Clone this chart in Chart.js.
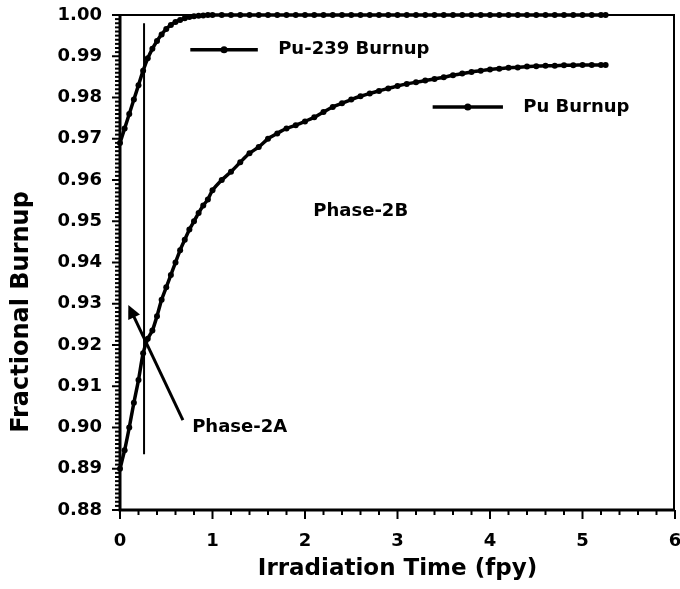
<!DOCTYPE html>
<html>
<head>
<meta charset="utf-8">
<script src="https://cdn.jsdelivr.net/npm/chart.js@4"></script>
<style>
  html, body { margin: 0; padding: 0; background: #fff; overflow: hidden; }
  #wrap { width: 680px; height: 589px; }
</style>
</head>
<body>
<div id="wrap"><canvas id="burnupChart"></canvas></div>
<script>
// irradiation time (fpy)
var times = [0, 0.05, 0.1, 0.15, 0.2, 0.25, 0.3, 0.35, 0.4, 0.45, 0.5, 0.55, 0.6, 0.65, 0.7, 0.75, 0.8, 0.85, 0.9, 0.95, 1.0,
  1.1, 1.2, 1.3, 1.4, 1.5, 1.6, 1.7, 1.8, 1.9, 2.0,
  2.1, 2.2, 2.3, 2.4, 2.5, 2.6, 2.7, 2.8, 2.9, 3.0,
  3.1, 3.2, 3.3, 3.4, 3.5, 3.6, 3.7, 3.8, 3.9, 4.0,
  4.1, 4.2, 4.3, 4.4, 4.5, 4.6, 4.7, 4.8, 4.9, 5.0,
  5.1, 5.2, 5.25];

// fractional burnup of Pu-239
var pu239Burnup = [0.969, 0.9725, 0.976, 0.9795, 0.983, 0.9865, 0.9895, 0.9918, 0.9937, 0.9953, 0.9966, 0.9976, 0.9983, 0.9988, 0.9992, 0.9995, 0.9997, 0.9998, 0.9999, 1.000, 1.000,
  1.000, 1.000, 1.000, 1.000, 1.000, 1.000, 1.000, 1.000, 1.000, 1.000,
  1.000, 1.000, 1.000, 1.000, 1.000, 1.000, 1.000, 1.000, 1.000, 1.000,
  1.000, 1.000, 1.000, 1.000, 1.000, 1.000, 1.000, 1.000, 1.000, 1.000,
  1.000, 1.000, 1.000, 1.000, 1.000, 1.000, 1.000, 1.000, 1.000, 1.000,
  1.000, 1.000, 1.000];

// fractional burnup of total Pu
var puBurnup = [0.890, 0.8945, 0.900, 0.906, 0.9115, 0.918, 0.9215, 0.9235, 0.927, 0.931, 0.934, 0.937, 0.940, 0.943, 0.9455, 0.948, 0.950, 0.952, 0.9538, 0.9553, 0.9575,
  0.960, 0.962, 0.9643, 0.9665, 0.968, 0.970, 0.9713, 0.9725, 0.9733, 0.9742,
  0.9752, 0.9765, 0.9777, 0.9786, 0.9795, 0.9803, 0.981, 0.9816, 0.9822, 0.9828,
  0.9833, 0.9837, 0.9841, 0.9845, 0.9849, 0.9854, 0.9858, 0.9862, 0.9865, 0.9868,
  0.987, 0.9872, 0.9873, 0.9875, 0.9876, 0.9877, 0.9877, 0.9878, 0.9878, 0.9879,
  0.9879, 0.9879, 0.9879];

var xTicks = [0, 1, 2, 3, 4, 5, 6];
var yTicks = [0.88, 0.89, 0.90, 0.91, 0.92, 0.93, 0.94, 0.95, 0.96, 0.97, 0.98, 0.99, 1.00];

var FONT = '"DejaVu Sans", sans-serif';

function pts(ys) {
  return times.map(function (t, i) { return { x: t, y: ys[i] }; });
}

// frame, outside ticks, titles, legend keys and the phase notes
var decorations = {
  id: 'decorations',
  afterDraw: function (chart) {
    var ctx = chart.ctx, a = chart.chartArea;
    var xs = chart.scales.x, ys = chart.scales.y;
    var X = function (v) { return xs.getPixelForValue(v); };
    var Y = function (v) { return ys.getPixelForValue(v); };
    ctx.save();
    ctx.strokeStyle = '#000';
    ctx.fillStyle = '#000';
    ctx.lineCap = 'butt';

    // frame: heavy left and bottom, lighter top and right
    ctx.lineWidth = 2;
    ctx.beginPath();
    ctx.moveTo(a.left, a.top); ctx.lineTo(a.right - 1, a.top); ctx.lineTo(a.right - 1, a.bottom);
    ctx.stroke();
    ctx.lineWidth = 3;
    ctx.beginPath();
    ctx.moveTo(a.left, a.top); ctx.lineTo(a.left, a.bottom); ctx.lineTo(a.right, a.bottom);
    ctx.stroke();

    // y ticks: major every 0.01, minor every 0.001
    ctx.lineWidth = 2;
    for (var i = 0; i <= 120; i++) {
      var yp = Y(0.88 + i * 0.001);
      var len = (i % 10 === 0) ? 8 : 5;
      ctx.beginPath(); ctx.moveTo(a.left, yp); ctx.lineTo(a.left - len, yp); ctx.stroke();
    }
    // x ticks: major every 1, minor every 0.2
    for (var j = 0; j <= 30; j++) {
      var xp = X(j * 0.2);
      var l2 = (j % 5 === 0) ? 9 : 5;
      ctx.beginPath(); ctx.moveTo(xp, a.bottom); ctx.lineTo(xp, a.bottom + l2); ctx.stroke();
    }

    // axis titles
    ctx.font = 'bold 23px ' + FONT;
    ctx.textAlign = 'center';
    ctx.textBaseline = 'middle';
    ctx.fillText('Irradiation Time (fpy)', (a.left + a.right) / 2, 569);
    ctx.save();
    ctx.translate(22, 312);
    ctx.rotate(-Math.PI / 2);
    ctx.font = 'bold 24px ' + FONT;
    ctx.fillText('Fractional Burnup', 0, 0);
    ctx.restore();

    // legend keys inside the plot
    ctx.font = 'bold 18px ' + FONT;
    ctx.textAlign = 'left';
    var keys = [
      { x0: 0.76, x1: 1.49, y: 0.9916, tx: 1.71, text: 'Pu-239 Burnup' },
      { x0: 3.38, x1: 4.14, y: 0.9777, tx: 4.36, text: 'Pu Burnup' }
    ];
    keys.forEach(function (k) {
      ctx.lineWidth = 3.5;
      ctx.beginPath(); ctx.moveTo(X(k.x0), Y(k.y)); ctx.lineTo(X(k.x1), Y(k.y)); ctx.stroke();
      ctx.beginPath(); ctx.arc((X(k.x0) + X(k.x1)) / 2, Y(k.y), 3.5, 0, Math.PI * 2); ctx.fill();
      ctx.fillText(k.text, X(k.tx), Y(k.y));
    });

    // phase boundary line
    ctx.lineWidth = 2;
    ctx.beginPath(); ctx.moveTo(X(0.26), Y(0.998)); ctx.lineTo(X(0.26), Y(0.8935)); ctx.stroke();

    // arrow to Phase-2A
    var x1 = X(0.68), y1 = Y(0.9018), x2 = X(0.09), y2 = Y(0.9297);
    var ang = Math.atan2(y2 - y1, x2 - x1);
    ctx.lineWidth = 3;
    ctx.beginPath(); ctx.moveTo(x1, y1); ctx.lineTo(x2 - 8 * Math.cos(ang), y2 - 8 * Math.sin(ang)); ctx.stroke();
    ctx.beginPath();
    ctx.moveTo(x2, y2);
    ctx.lineTo(x2 - 15 * Math.cos(ang - 0.45), y2 - 15 * Math.sin(ang - 0.45));
    ctx.lineTo(x2 - 15 * Math.cos(ang + 0.45), y2 - 15 * Math.sin(ang + 0.45));
    ctx.closePath(); ctx.fill();

    ctx.fillText('Phase-2A', X(0.78), Y(0.9001));
    ctx.fillText('Phase-2B', X(2.09), Y(0.9525));
    ctx.restore();
  }
};

var ctx = document.getElementById('burnupChart').getContext('2d');
var chart = new Chart(ctx, {
  type: 'line',
  data: {
    datasets: [{
      label: 'Pu-239 Burnup',
      data: pts(pu239Burnup),
      borderColor: '#000',
      backgroundColor: '#000',
      borderWidth: 3.5,
      pointRadius: 3,
      pointBorderWidth: 0,
      tension: 0.2,
      clip: 6
    }, {
      label: 'Pu Burnup',
      data: pts(puBurnup),
      borderColor: '#000',
      backgroundColor: '#000',
      borderWidth: 3.5,
      pointRadius: 3,
      pointBorderWidth: 0,
      tension: 0.2,
      clip: 6
    }]
  },
  options: {
    responsive: true,
    maintainAspectRatio: false,
    animation: false,
    layout: { padding: { top: 15, right: 5, left: 0, bottom: 0 } },
    plugins: {
      legend: { display: false },
      tooltip: { enabled: false }
    },
    scales: {
      x: {
        type: 'linear',
        min: 0,
        max: 6,
        afterBuildTicks: function (s) { s.ticks = xTicks.map(function (v) { return { value: v }; }); },
        afterFit: function (s) { s.height = 79; s.paddingLeft = 0; s.paddingRight = 0; },
        grid: { display: false },
        border: { display: false },
        ticks: {
          color: '#000',
          padding: 13,
          maxRotation: 0,
          font: { family: FONT, size: 18, weight: 'bold' }
        }
      },
      y: {
        min: 0.88,
        max: 1.00,
        afterBuildTicks: function (s) { s.ticks = yTicks.map(function (v) { return { value: v }; }); },
        afterFit: function (s) { s.width = 120; s.paddingTop = 0; s.paddingBottom = 0; },
        grid: { display: false },
        border: { display: false },
        ticks: {
          color: '#000',
          padding: 10,
          font: { family: FONT, size: 18, weight: 'bold' },
          callback: function (v) { return Number(v).toFixed(2); }
        }
      }
    }
  },
  plugins: [decorations]
});
</script>
</body>
</html>
